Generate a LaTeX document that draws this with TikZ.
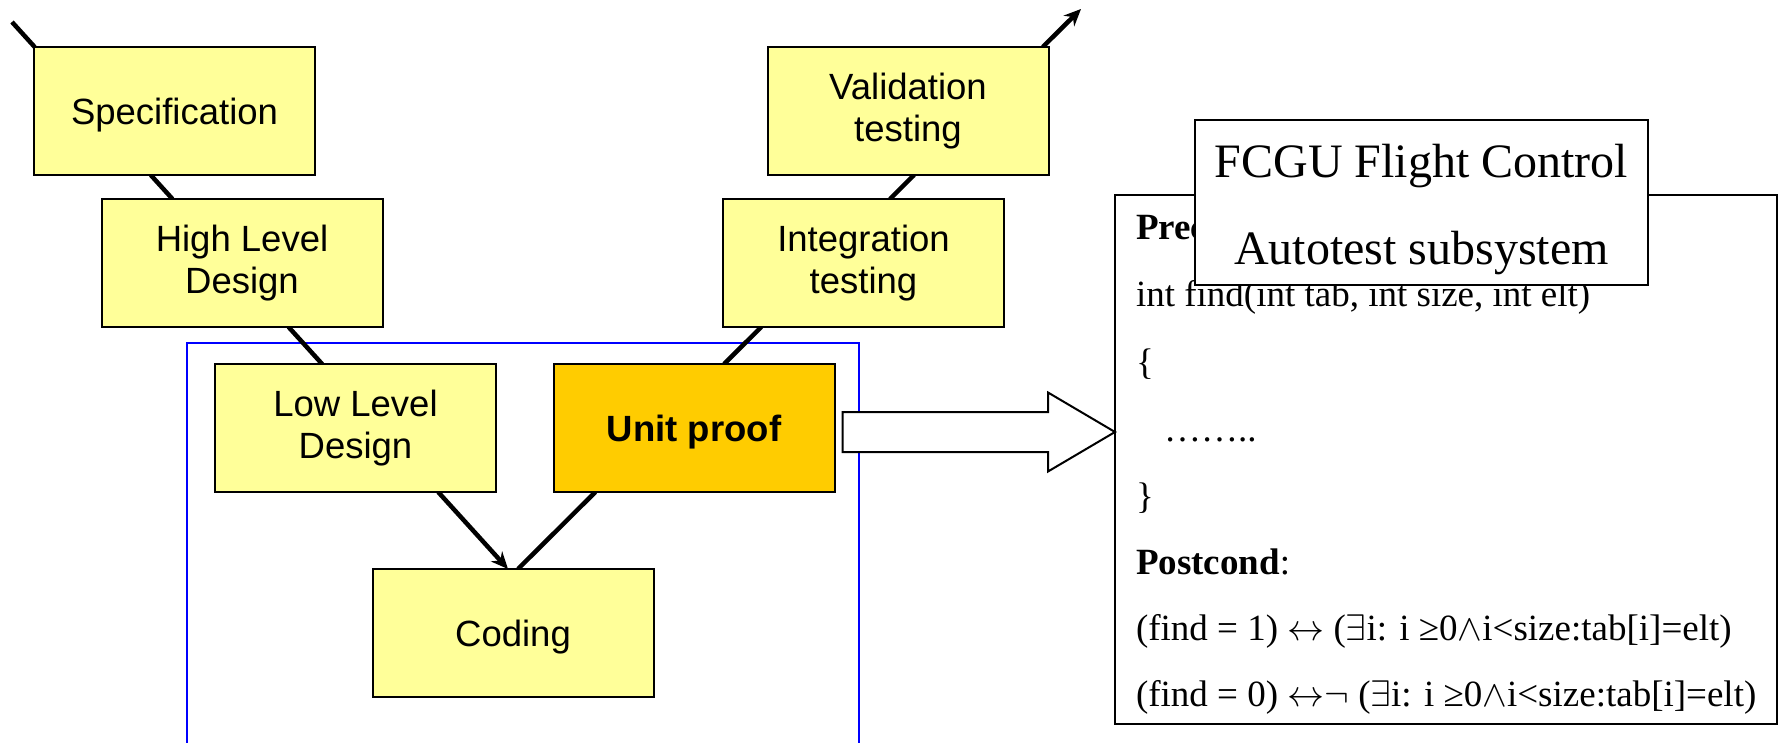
\RequirePackage{fix-cm}
\documentclass[tikz,border=0pt]{standalone}
\usepackage{fontspec}
\setmainfont{Liberation Serif}
\newfontfamily\arialf{Liberation Sans}
\usetikzlibrary{arrows.meta,backgrounds}
\definecolor{vyellow}{HTML}{FFFF99}
\definecolor{vorange}{HTML}{FFCC00}
\begin{document}
\begin{tikzpicture}[x=1pt,y=-1pt,
  vbox/.style={draw=black, line width=2pt, fill=vyellow, minimum width=281pt, minimum height=128pt,
    inner sep=0pt, outer sep=0pt, align=center, font=\arialf\fontsize{36.5}{42}\selectfont,
    execute at begin node={\rule{0pt}{34pt}}},
  vline/.style={line width=4.5pt, black},
  vtip/.style={-{Stealth[length=17pt,width=15pt]}},
  codetxt/.style={anchor=base west, inner sep=0pt, outer sep=0pt, font=\fontsize{37}{44}\selectfont},
  titletxt/.style={anchor=base, inner sep=0pt, outer sep=0pt, font=\fontsize{48}{56}\selectfont},
  plainbox/.style={draw=black, fill=white, inner sep=0pt, outer sep=0pt},
  bigarrow/.style={draw=black, line width=2pt, fill=white, line join=miter}
]
\useasboundingbox (0,0) rectangle (1780,743);

% V-model boxes
\node[vbox] (spec) at (174.5,111) {Specification};
\node[vbox] (hld) at (242,263) {High Level\\Design};
\node[vbox] (lld) at (355.5,428) {Low Level\\Design};
\node[vbox, fill=vorange, font=\arialf\bfseries\fontsize{36.5}{42}\selectfont] (unit) at (694,428) {Unit proof};
\node[vbox] (coding) at (513,633) {Coding};
\node[vbox] (integ) at (863.5,263) {Integration\\testing};
\node[vbox] (valid) at (908,111) {Validation\\testing};

\coordinate (vs) at (12,22);
\coordinate (ve) at (1081,9);
\coordinate (cl) at ([xshift=-5pt]coding.north);
\coordinate (cr) at ([xshift=5pt]coding.north);

\begin{pgfonlayer}{background}
  \draw[blue, line width=1.5pt] (187,743) -- (187,343) -- (859,343) -- (859,743);
  % left branch
  \draw[vline] (vs) -- (intersection of vs--cl and spec.north west--spec.north east);
  \draw[vline] (intersection of vs--cl and spec.south west--spec.south east)
            -- (intersection of vs--cl and hld.north west--hld.north east);
  \draw[vline] (intersection of vs--cl and hld.south west--hld.south east)
            -- (intersection of vs--cl and lld.north west--lld.north east);
  \draw[vline, vtip] (intersection of vs--cl and lld.south west--lld.south east) -- (cl);
  % right branch
  \draw[vline] (cr) -- (intersection of cr--ve and unit.south west--unit.south east);
  \draw[vline] (intersection of cr--ve and unit.north west--unit.north east)
            -- (intersection of cr--ve and integ.south west--integ.south east);
  \draw[vline] (intersection of cr--ve and integ.north west--integ.north east)
            -- (intersection of cr--ve and valid.south west--valid.south east);
  \draw[vline, vtip] (intersection of cr--ve and valid.north west--valid.north east) -- (ve);
\end{pgfonlayer}

% code box
\node[plainbox, line width=2pt, minimum width=662pt, minimum height=529pt] (code) at (1446,459.5) {};
\node[codetxt] (c1) at (1136,240) {\textbf{Precond}:};
\node[codetxt] (c2) at (1136,307) {int find(int tab, int size, int elt)};
\node[codetxt] (c3) at (1136,374) {\{};
\node[codetxt] (c4) at (1164,441) {……..};
\node[codetxt] (c5) at (1136,508) {\}};
\node[codetxt] (c6) at (1136,574) {\textbf{Postcond}:};
\node[codetxt] (c7) at (1136,640) {(find = 1) $\leftrightarrow$ ($\exists$i: i ≥0$\wedge$i<size:tab[i]=elt)};
\node[codetxt] (c8) at (1136,706) {(find = 0) $\leftrightarrow$$\neg$ ($\exists$i: i ≥0$\wedge$i<size:tab[i]=elt)};

% title box
\node[plainbox, line width=2.5pt, minimum width=453pt, minimum height=165pt] (title) at (1421.5,202.5) {};
\node[titletxt] (t1) at (1421.5,178) {FCGU Flight Control};
\node[titletxt] (t2) at (1421.5,265) {Autotest subsystem};

% big arrow from unit proof to code box
\coordinate (as) at ([xshift=8pt,yshift=-4pt]unit.east);
\coordinate (at) at (code.west |- as);
\draw[bigarrow] ([yshift=20pt]as) -- ([xshift=-67pt,yshift=20pt]at) -- ([xshift=-67pt,yshift=39.5pt]at)
  -- (at) -- ([xshift=-67pt,yshift=-39.5pt]at) -- ([xshift=-67pt,yshift=-20pt]at)
  -- ([yshift=-20pt]as) -- cycle;
\end{tikzpicture}
\end{document}
